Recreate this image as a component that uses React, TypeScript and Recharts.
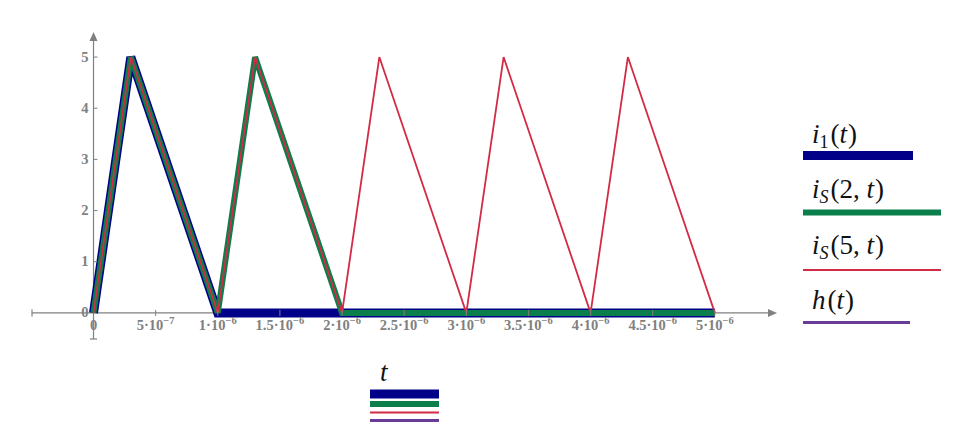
import React from 'react'
import { LineChart, Line, XAxis, YAxis, ReferenceLine } from 'recharts'

// tick positions and their labels (mantissa · 10^exponent)
const xTicks = [0, 0.5e-6, 1e-6, 1.5e-6, 2e-6, 2.5e-6, 3e-6, 3.5e-6, 4e-6, 4.5e-6, 5e-6]
const xTickMantissa = ['0', '5', '1', '1.5', '2', '2.5', '3', '3.5', '4', '4.5', '5']
const xTickExponent = ['', '−7', '−6', '−6', '−6', '−6', '−6', '−6', '−6', '−6', '−6']
const yTicks = [0, 1, 2, 3, 4, 5]

// series (t in seconds)
const i1T = [0, 0.3e-6, 1e-6, 5e-6]
const i1V = [0, 5, 0, 0]
const is2T = [0, 0.3e-6, 1e-6, 1.3e-6, 2e-6, 5e-6]
const is2V = [0, 5, 0, 5, 0, 0]
const is5T = [0, 0.3e-6, 1e-6, 1.3e-6, 2e-6, 2.3e-6, 3e-6, 3.3e-6, 4e-6, 4.3e-6, 5e-6]
const is5V = [0, 5, 0, 5, 0, 5, 0, 5, 0, 5, 0]
const hT: number[] = []
const hV: number[] = []

const zip = (ts: number[], vs: number[]) => ts.map((t, i) => ({ t, v: vs[i] }))

const series = [
  { key: 'i1', fn: 'i', sub: '1', args: ['t'], color: '#000088', width: 9, data: zip(i1T, i1V) },
  { key: 'is2', fn: 'i', sub: 'S', args: ['2', 't'], color: '#0b7f4b', width: 6, data: zip(is2T, is2V) },
  { key: 'is5', fn: 'i', sub: 'S', args: ['5', 't'], color: '#d22b45', width: 1.8, data: zip(is5T, is5V) },
  { key: 'h', fn: 'h', sub: '', args: ['t'], color: '#6a3c98', width: 3, data: zip(hT, hV) },
]

const X_MIN = -0.495e-6
const X_MAX = 5.5e-6
const Y_MIN = -0.51
const Y_MAX = 5.49

const W = 967
const H = 435
const PLOT_L = 32
const PLOT_T = 32
const PLOT_W = 745
const PLOT_H = 307
const X_AXIS_H = 30
const Y_AXIS_W = 20

// pixel position of the origin, where the axes cross
const X0 = PLOT_L + ((0 - X_MIN) / (X_MAX - X_MIN)) * PLOT_W
const Y0 = PLOT_T + ((Y_MAX - 0) / (Y_MAX - Y_MIN)) * PLOT_H

const AXIS = '#808080'
const tickStyle: React.CSSProperties = { fontFamily: "'Liberation Serif', 'DejaVu Serif', serif", fontSize: 14.5, fontWeight: 700 }
const mathStyle: React.CSSProperties = { fontFamily: "'Liberation Serif', 'DejaVu Serif', serif", fontSize: 27 }

function XTick(props: any) {
  const { x, index } = props
  const exp = xTickExponent[index]
  return (
    <g>
      {index > 0 && <line x1={x} x2={x} y1={Y0 - 3} y2={Y0 + 3} stroke={AXIS} />}
      <text x={x} y={Y0 + 17} textAnchor="middle" fill="#808080" style={tickStyle}>
        {xTickMantissa[index]}
        {exp && (
          <>
            <tspan>·10</tspan>
            <tspan dy={-6} style={{ fontSize: 10.5 }}>{exp}</tspan>
          </>
        )}
      </text>
    </g>
  )
}

function YTick(props: any) {
  const { y, payload } = props
  return (
    <g>
      {payload.value !== 0 && <line x1={X0} x2={X0 + 4} y1={y} y2={y} stroke={AXIS} />}
      <text x={X0 - 5} y={y + 4.5} textAnchor="end" fill="#808080" style={tickStyle}>
        {payload.value}
      </text>
    </g>
  )
}

function HorizontalAxis(props: any) {
  const { x1, x2, y1 } = props
  const l = Math.min(x1, x2)
  const r = Math.max(x1, x2)
  return (
    <g>
      <line x1={l} x2={r - 6} y1={y1} y2={y1} stroke={AXIS} strokeWidth={1.2} />
      <line x1={l} x2={l} y1={y1 - 3.5} y2={y1 + 3.5} stroke={AXIS} strokeWidth={1.2} />
      <polygon points={`${r},${y1} ${r - 9},${y1 - 4} ${r - 9},${y1 + 4}`} fill={AXIS} />
    </g>
  )
}

function VerticalAxis(props: any) {
  const { x1, y1, y2 } = props
  const top = Math.min(y1, y2)
  const bottom = Math.max(y1, y2)
  return (
    <g>
      <line x1={x1} x2={x1} y1={top + 6} y2={bottom} stroke={AXIS} strokeWidth={1.2} />
      <line x1={x1 - 3.5} x2={x1 + 3.5} y1={bottom} y2={bottom} stroke={AXIS} strokeWidth={1.2} />
      <polygon points={`${x1},${top} ${x1 - 4},${top + 9} ${x1 + 4},${top + 9}`} fill={AXIS} />
    </g>
  )
}

const isLetter = (s: string) => /[A-Za-z]/.test(s)

function MathLabel({ x, y, fn, sub, args }: { x: number; y: number; fn: string; sub: string; args: string[] }) {
  return (
    <text x={x} y={y} fill="#111" style={mathStyle}>
      <tspan style={{ fontStyle: 'italic' }}>{fn}</tspan>
      {sub && (
        <tspan dy={5} style={{ fontSize: 18, fontStyle: isLetter(sub) ? 'italic' : 'normal' }}>
          {sub}
        </tspan>
      )}
      <tspan dy={sub ? -5 : 0} dx={2}>(</tspan>
      {args.map((a, i) => (
        <React.Fragment key={i}>
          {i > 0 && <tspan>{', '}</tspan>}
          <tspan style={{ fontStyle: isLetter(a) ? 'italic' : 'normal' }}>{a}</tspan>
        </React.Fragment>
      ))}
      <tspan dx={1}>)</tspan>
    </text>
  )
}

// right-hand legend layout: baseline of each label, bar centre and bar length
const legendBaselines = [143, 198, 254, 309]
const legendBarY = [155.5, 212.5, 270, 322.5]
const legendBarLen = [110, 138, 138, 107]
// bottom legend for the t axis
const tBarY = [394, 404, 412.5, 420.5]

export default function App() {
  return (
    <div style={{ position: 'absolute', left: 0, top: 0, width: W, height: H, background: '#fff' }}>
      <LineChart
        width={W}
        height={H}
        margin={{
          top: PLOT_T,
          left: PLOT_L - Y_AXIS_W,
          right: W - PLOT_L - PLOT_W,
          bottom: H - PLOT_T - PLOT_H - X_AXIS_H,
        }}
      >
        <XAxis
          dataKey="t"
          type="number"
          domain={[X_MIN, X_MAX]}
          allowDataOverflow
          ticks={xTicks}
          interval={0}
          height={X_AXIS_H}
          axisLine={false}
          tickLine={false}
          tick={<XTick />}
        />
        <YAxis
          type="number"
          domain={[Y_MIN, Y_MAX]}
          allowDataOverflow
          ticks={yTicks}
          interval={0}
          width={Y_AXIS_W}
          axisLine={false}
          tickLine={false}
          tick={<YTick />}
        />
        <ReferenceLine y={0} shape={<HorizontalAxis />} />
        <ReferenceLine x={0} shape={<VerticalAxis />} />
        {series.map((s) => (
          <Line
            key={s.key}
            data={s.data}
            dataKey="v"
            type="linear"
            stroke={s.color}
            strokeWidth={s.width}
            dot={false}
            activeDot={false}
            isAnimationActive={false}
          />
        ))}
      </LineChart>
      <svg width={W} height={H} style={{ position: 'absolute', left: 0, top: 0, pointerEvents: 'none' }}>
        {series.map((s, i) => (
          <g key={s.key}>
            <MathLabel x={812} y={legendBaselines[i]} fn={s.fn} sub={s.sub} args={s.args} />
            <line
              x1={803}
              x2={803 + legendBarLen[i]}
              y1={legendBarY[i]}
              y2={legendBarY[i]}
              stroke={s.color}
              strokeWidth={Math.max(s.width, 2)}
            />
          </g>
        ))}
        <text x={380} y={381} fill="#111" style={{ ...mathStyle, fontStyle: 'italic' }}>
          t
        </text>
        {series.map((s, i) => (
          <line
            key={s.key}
            x1={370}
            x2={439}
            y1={tBarY[i]}
            y2={tBarY[i]}
            stroke={s.color}
            strokeWidth={Math.max(s.width, 2)}
          />
        ))}
      </svg>
    </div>
  )
}
